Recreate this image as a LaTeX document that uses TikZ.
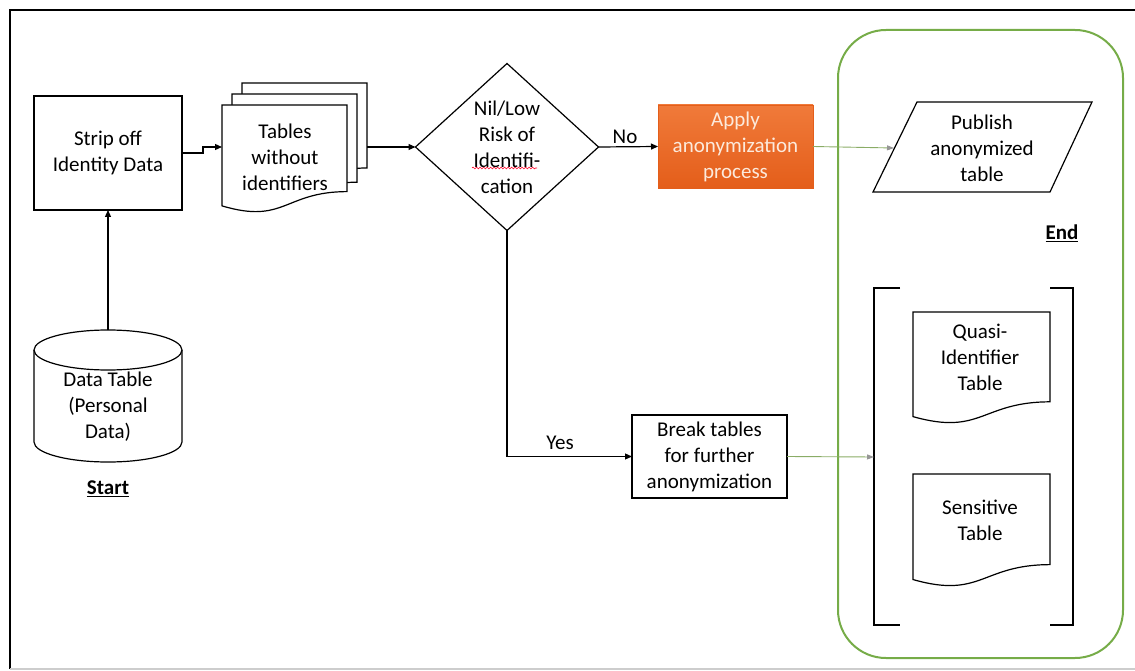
\documentclass[tikz,border=0pt]{standalone}
\usepackage{fontspec}
\setmainfont{Carlito}
\usetikzlibrary{arrows.meta,calc,shapes.geometric,decorations.pathmorphing}

\definecolor{frameGreen}{RGB}{118,172,72}
\definecolor{linkGreen}{RGB}{138,172,102}
\definecolor{tipGrey}{RGB}{150,150,150}
\definecolor{orangeTop}{RGB}{240,122,58}
\definecolor{orangeBot}{RGB}{228,94,26}
\definecolor{paleText}{RGB}{252,234,220}
\definecolor{edgeGrey}{RGB}{205,205,205}

\tikzset{
  txt/.style={font=\fontsize{21}{26}\selectfont, align=center, inner sep=0pt},
  outline/.style={line width=1.2pt},
  frame/.style={inner sep=0pt, outer sep=0pt},
  procbox/.style={frame, draw, outline},
  arr/.style={outline, -{Triangle[length=7pt,width=6pt]}},
  greenarr/.style={linkGreen, line width=0.9pt, -{Triangle[length=7pt,width=5pt,fill=tipGrey,color=tipGrey]}},
}

% document symbol with a wavy bottom edge, drawn on a frame node
\newcommand\drawdoc[1]{%
  \draw[outline, fill=white] (#1.north west) -- (#1.north east)
    -- ($(#1.north east)!0.802!(#1.south east)$)
    .. controls ($(#1.north)!0.802!(#1.south)$) and ($(#1.north)!1.1075!(#1.south)$)
    .. ($(#1.north west)!0.934!(#1.south west)$) -- cycle;}

\begin{document}
\begin{tikzpicture}[x=1pt,y=1pt]
\useasboundingbox (0,0) rectangle (1135,-671);

% page frame
\draw[line width=2pt] (10,-669) -- (10,-10) -- (1135,-10);
\draw[edgeGrey, line width=1.5pt] (10,-669) -- (1135,-669);

% start: personal data table
\node[frame, minimum width=148pt, minimum height=132pt] (dtab) at (108,-396) {};
\draw[outline] (dtab.north west |- 0,-350) -- (dtab.south west |- 0,-442)
  arc[start angle=180, end angle=360, x radius=74pt, y radius=20pt] -- (dtab.north east |- 0,-350);
\draw[outline] (108,-350) ellipse [x radius=74pt, y radius=20pt];
\node[txt] (dtabtxt) at (108,-407) {Data Table\\(Personal\\Data)};
\node[txt, font=\fontsize{21}{26}\selectfont\bfseries] (startlbl) at (108,-489) {\underline{Start}};

% strip identity data
\node[procbox, txt, minimum width=148pt, minimum height=114pt] (strip) at (108,-153) {Strip off\\Identity Data};

% stack of tables without identifiers
\node[frame, minimum width=125pt, minimum height=106pt, anchor=north west] (tab3) at (242,-83) {};
\node[frame, minimum width=125pt, minimum height=110pt, anchor=north west] (tab2) at (232,-94) {};
\node[frame, minimum width=125pt, minimum height=108pt, anchor=north west] (tab1) at (222,-105) {};
\drawdoc{tab3}
\drawdoc{tab2}
\drawdoc{tab1}
\node[txt] (tabtxt) at (285,-157) {Tables\\without\\identifiers};

% decision
\node[diamond, draw, outline, frame, minimum width=183pt, minimum height=167pt] (risk) at (507,-147) {};
\node[txt] (risktxt) at (507,-147) {Nil/Low\\Risk of\\Identifi-\\cation};
\draw[red!85!magenta, line width=0.6pt, decorate,
      decoration={snake, amplitude=0.9pt, segment length=3.5pt}] (472,-168) -- (537,-168);

% anonymization step
\node[frame, txt, text=paleText, minimum width=155pt, minimum height=83pt,
      top color=orangeTop, bottom color=orangeBot, draw=orangeBot] (apply) at (735.5,-146.5)
      {Apply\\anonymization\\process};

% break tables step
\node[procbox, txt, minimum width=155pt, minimum height=83pt] (brk) at (709.5,-456.5)
      {Break tables\\for further\\anonymization};

% end region
\draw[frameGreen, line width=2pt, rounded corners=48pt] (838,-30) rectangle (1123,-658);

% publish
\node[txt] (pub) at (982,-148) {Publish\\anonymized\\table};
\draw[outline] (873,-192) -- (917,-102) -- (1092,-102) -- (1050,-192) -- cycle;
\coordinate (pubin) at (894,-148);
\node[txt, font=\fontsize{21}{26}\selectfont\bfseries] (endlbl) at (1062,-233) {\underline{End}};

% split tables in brackets
\draw[outline] (900,-288) -- (874,-288) -- (874,-625) -- (900,-625);
\draw[outline] (1050,-288) -- (1073,-288) -- (1073,-625) -- (1050,-625);
\coordinate (brkin) at (874,-457);
\node[frame, minimum width=137pt, minimum height=112pt, anchor=north west] (quasi) at (913,-312) {};
\drawdoc{quasi}
\node[txt] (quasitxt) at (980,-357) {Quasi-\\Identifier\\Table};
\node[frame, minimum width=137pt, minimum height=113pt, anchor=north west] (sens) at (913,-474) {};
\drawdoc{sens}
\node[txt] (senstxt) at (980,-520) {Sensitive\\Table};

% connectors
\draw[arr] (dtab.north) -- (strip.south);
\draw[arr] (strip.east) -- ++(21,0) |- (tab1.west |- risk.west);
\draw[arr] (tab3.east |- risk.west) -- (risk.west);
\draw[arr] (risk.east) -- (apply.west);
\node[txt] (nolbl) at (625,-137) {No};
\draw[arr] (risk.south) |- (brk.west);
\node[txt] (yeslbl) at (560,-443) {Yes};
\draw[greenarr] (apply.east) -- (pubin);
\draw[greenarr] (brk.east) -- (brkin);
\end{tikzpicture}
\end{document}
